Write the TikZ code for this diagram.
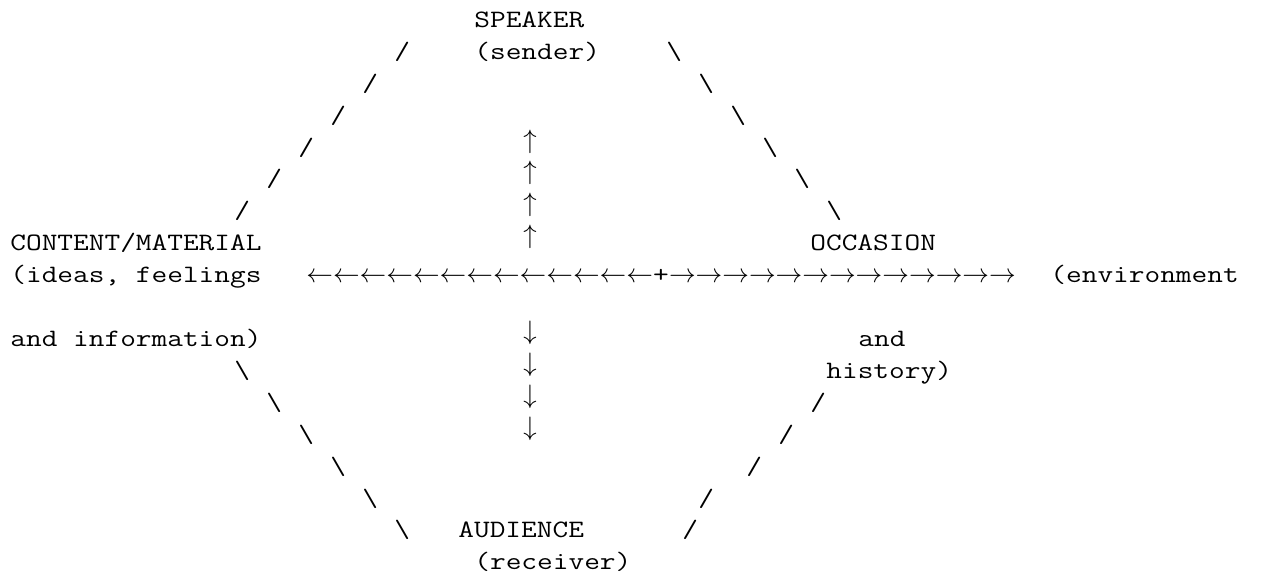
\RequirePackage{fix-cm}
\documentclass[tikz,border=0pt]{standalone}
\usepackage{fontspec}
\setmonofont{Latin Modern Mono}[FakeStretch=1.219]
\begin{document}
\begin{tikzpicture}[x=8pt, y=-15.95pt,
  ascii/.style={font=\ttfamily\fontsize{12.5pt}{15pt}\selectfont, inner sep=0pt, anchor=base west},
  glyph/.style={font=\fontsize{13.33pt}{16pt}\selectfont, inner sep=0pt}]
\useasboundingbox (-0.625,-0.862) rectangle (78.1875,17.351);
\node [ascii] (speaker) at (29,0) {SPEAKER};
\node [ascii] (sender) at (29,1) {(sender)};
\node [ascii] (content) at (0,7) {CONTENT/MATERIAL};
\node [ascii] (ideas) at (0,8) {(ideas, feelings};
\node [ascii] (info) at (0,10) {and information)};
\node [ascii] (occasion) at (50,7) {OCCASION};
\node [ascii] (environment) at (65,8) {(environment};
\node [ascii] (and) at (53,10) {and};
\node [ascii] (history) at (51,11) {history)};
\node [ascii] (audience) at (28,16) {AUDIENCE};
\node [ascii] (receiver) at (29,17) {(receiver)};
\foreach \r/\c in {1/24, 2/22, 3/20, 4/18, 5/16, 6/14}
  \node [ascii] (nw\r) at (\c,\r) {/};
\foreach \r/\c in {1/41, 2/43, 3/45, 4/47, 5/49, 6/51}
  \node [ascii] (ne\r) at (\c,\r) {\textbackslash};
\foreach \r/\c in {11/14, 12/16, 13/18, 14/20, 15/22, 16/24}
  \node [ascii] (sw\r) at (\c,\r) {\textbackslash};
\foreach \r/\c in {12/50, 13/48, 14/46, 15/43, 16/42}
  \node [ascii] (se\r) at (\c,\r) {/};
\foreach \i in {0,...,12} {
  \node [glyph, anchor=base west] (left\i) at ({18.5+\i*5/3},8) {$\leftarrow$};
  \node [glyph, anchor=base west] (right\i) at ({41+1/6+\i*5/3},8) {$\rightarrow$};
}
\node [ascii] (hub) at ({18.5+13*5/3},8) {+};
\foreach \r in {4,...,7}
  \node [glyph] (up\r) at (32.5,\r-0.43) {$\uparrow$};
\foreach \r in {10,...,13}
  \node [glyph] (down\r) at (32.5,\r-0.43) {$\downarrow$};
\end{tikzpicture}
\end{document}
